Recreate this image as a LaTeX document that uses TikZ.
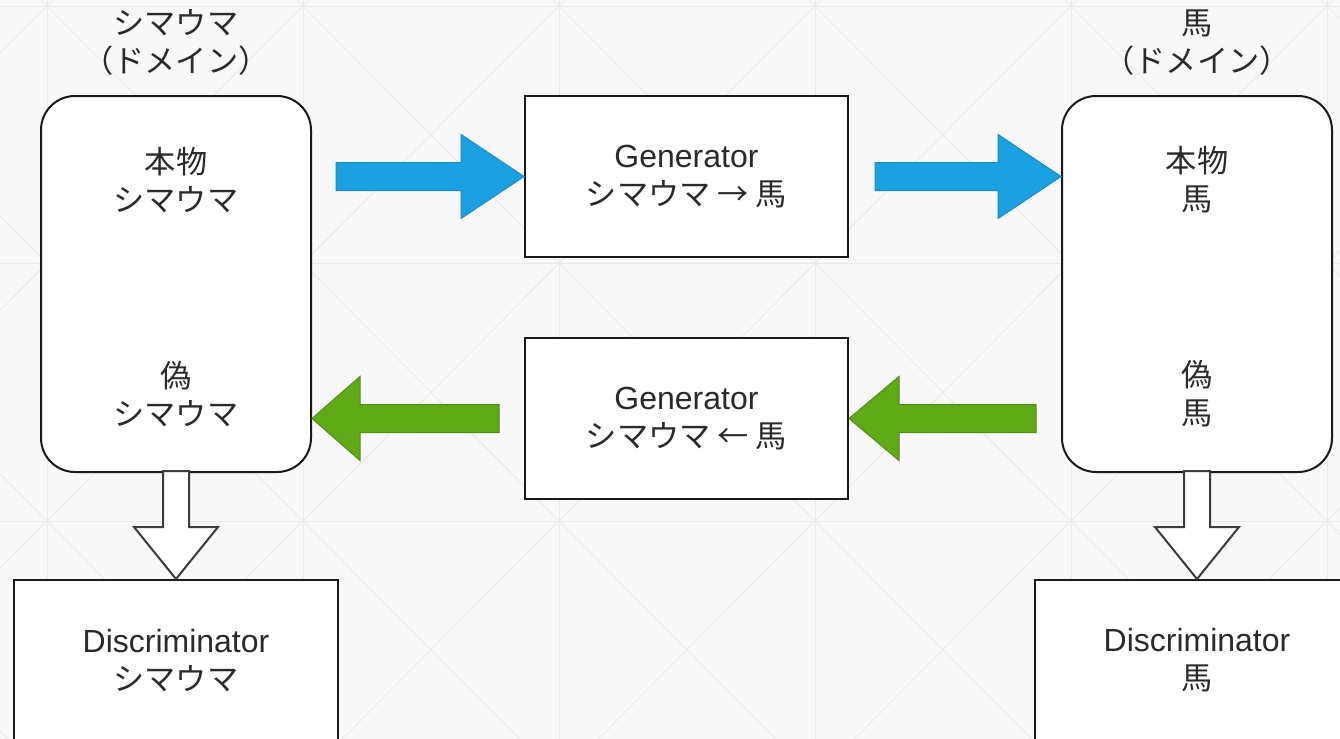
\documentclass[tikz,border=0pt]{standalone}
\usepackage{fontspec}
\setmainfont{Liberation Sans}
\newfontfamily\jpfont[Scale=0.975]{Noto Sans CJK JP}
\usetikzlibrary{positioning}
\definecolor{bgColor}{HTML}{F8F8F8}
\definecolor{gridColor}{HTML}{EAEAEA}
\definecolor{lineColor}{HTML}{1A1A1A}
\definecolor{textColor}{HTML}{2A2A2A}
\definecolor{blueFill}{HTML}{1BA1E2}
\definecolor{blueLine}{HTML}{168FCB}
\definecolor{greenFill}{HTML}{60A917}
\definecolor{greenLine}{HTML}{4E8E12}

\begin{document}
\begin{tikzpicture}[x=0.5pt, y=-0.5pt]

  \tikzstyle{gridLine} = [gridColor, line width=0.5pt];
  \tikzstyle{boxText} = [text=textColor, align=center, font=\fontsize{16}{19}\selectfont];
  \tikzstyle{domainBox} = [draw=lineColor, line width=1pt, fill=white, rounded corners=17pt, minimum width=135pt, minimum height=188pt];
  \tikzstyle{netBox} = [boxText, draw=lineColor, line width=1pt, fill=white, minimum width=161.5pt, minimum height=80.5pt];
  \tikzstyle{blueArrow} = [fill=blueFill, draw=blueLine, line width=0.5pt];
  \tikzstyle{greenArrow} = [fill=greenFill, draw=greenLine, line width=0.5pt];
  \tikzstyle{hollowArrow} = [fill=white, draw=lineColor!85, line width=1pt, line join=miter];

  % background and grid
  \clip (0,0) rectangle (1340,739);
  \fill[bgColor] (0,0) rectangle (1340,739);
  \foreach \x in {47,303,559,815,1071,1327}
    \draw[gridLine] (\x,0) -- (\x,739);
  \foreach \y in {6,263.5,521}
    \draw[gridLine] (0,\y) -- (1340,\y);
  \foreach \x in {-209,47,303,559,815,1071,1327}
    \foreach \y in {-251.5,6,263.5,521} {
      \draw[gridLine] (\x,\y) -- ++(256,257.5);
      \draw[gridLine] (\x+256,\y) -- ++(-256,257.5);
    }

  % domains
  \node[domainBox] (zdom) at (176,284) {};
  \node[domainBox] (hdom) at (1197,284) {};
  \node[boxText] (zname) at (176,43) {{\jpfont シマウマ}\\{\jpfont （ドメイン）}};
  \node[boxText] (hname) at (1197,43) {{\jpfont 馬}\\{\jpfont （ドメイン）}};

  \node[boxText] (zreal) at (176,180) {{\jpfont 本物}\\{\jpfont シマウマ}};
  \node[boxText] (zfake) at (176,394) {{\jpfont 偽}\\{\jpfont シマウマ}};
  \node[boxText] (hreal) at (1197,180) {{\jpfont 本物}\\{\jpfont 馬}};
  \node[boxText] (hfake) at (1197,394) {{\jpfont 偽}\\{\jpfont 馬}};

  % generators
  \node[netBox] (gzh) at (686.5,176.5) {Generator\\{\jpfont シマウマ → 馬}};
  \node[netBox] (ghz) at (686.5,418.5) {Generator\\{\jpfont シマウマ ← 馬}};

  % discriminators
  \node[netBox, minimum width=162pt] (dz) at (176,660.5) {Discriminator\\{\jpfont シマウマ}};
  \node[netBox, minimum width=162pt] (dh) at (1197,660.5) {Discriminator\\{\jpfont 馬}};

  % zebra -> horse
  \draw[blueArrow] (gzh.west) -- ++(-63,-42) -- ++(0,28) -- ++(-125,0)
    -- ++(0,28) -- ++(125,0) -- ++(0,28) -- cycle;
  \draw[blueArrow] (hdom.west |- gzh.west) -- ++(-63,-42) -- ++(0,28) -- ++(-123,0)
    -- ++(0,28) -- ++(123,0) -- ++(0,28) -- cycle;

  % horse -> zebra
  \draw[greenArrow] (zdom.east |- ghz.west) -- ++(48,-42) -- ++(0,28) -- ++(139,0)
    -- ++(0,28) -- ++(-139,0) -- ++(0,28) -- cycle;
  \draw[greenArrow] (ghz.east) -- ++(50,-42) -- ++(0,28) -- ++(137,0)
    -- ++(0,28) -- ++(-137,0) -- ++(0,28) -- cycle;

  % into the discriminators
  \draw[hollowArrow] (dz.north) -- ++(-42,-52) -- ++(29,0) -- ++(0,-56)
    -- ++(26,0) -- ++(0,56) -- ++(29,0) -- cycle;
  \draw[hollowArrow] (dh.north) -- ++(-42,-52) -- ++(29,0) -- ++(0,-56)
    -- ++(26,0) -- ++(0,56) -- ++(29,0) -- cycle;

\end{tikzpicture}
\end{document}
